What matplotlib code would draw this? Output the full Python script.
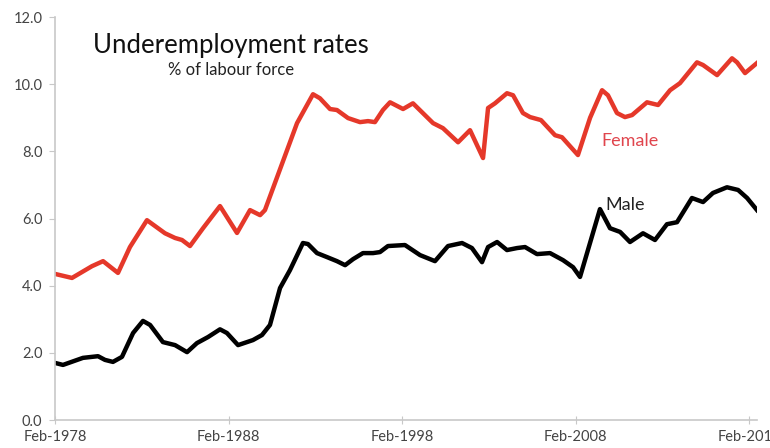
import matplotlib.pyplot as plt

# Underemployment rates, % of labour force
female_year = [1978.08, 1979.06, 1980.21, 1980.85, 1981.71, 1982.40, 1983.38, 1984.42,
               1985.00, 1985.40, 1985.86, 1986.61, 1987.59, 1988.57, 1989.32, 1989.90,
               1990.18, 1990.88, 1992.03, 1992.95, 1993.35, 1993.93, 1994.33, 1994.97,
               1995.66, 1996.12, 1996.52, 1996.98, 1997.39, 1998.14, 1998.71, 1999.87,
               2000.44, 2001.31, 2002.00, 2002.75, 2003.04, 2003.44, 2004.13, 2004.48,
               2005.05, 2005.46, 2006.09, 2006.90, 2007.30, 2008.22, 2008.92, 2009.61,
               2009.95, 2010.47, 2010.93, 2011.34, 2012.20, 2012.84, 2013.53, 2014.10,
               2015.08, 2015.43, 2016.24, 2017.10, 2017.39, 2017.85, 2018.54]
female = [4.35, 4.23, 4.58, 4.73, 4.38, 5.15, 5.95, 5.56,
          5.42, 5.36, 5.18, 5.71, 6.37, 5.57, 6.25, 6.10,
          6.25, 7.23, 8.84, 9.70, 9.58, 9.26, 9.23, 8.99,
          8.87, 8.90, 8.87, 9.23, 9.46, 9.26, 9.43, 8.84,
          8.69, 8.27, 8.63, 7.80, 9.29, 9.43, 9.73, 9.67,
          9.14, 9.02, 8.93, 8.48, 8.42, 7.89, 9.00, 9.82,
          9.67, 9.14, 9.02, 9.08, 9.46, 9.38, 9.82, 10.03,
          10.65, 10.57, 10.27, 10.77, 10.65, 10.33, 10.63]

male_year = [1978.08, 1978.54, 1979.69, 1980.56, 1980.96, 1981.42, 1981.94, 1982.58,
             1983.15, 1983.56, 1984.30, 1985.00, 1985.69, 1986.26, 1986.90, 1987.59,
             1987.99, 1988.63, 1989.49, 1990.01, 1990.47, 1991.05, 1991.62, 1992.37,
             1992.66, 1993.18, 1993.76, 1994.33, 1994.80, 1995.26, 1995.83, 1996.41,
             1996.81, 1997.27, 1998.25, 1999.12, 1999.98, 2000.73, 2001.54, 2002.11,
             2002.69, 2003.04, 2003.56, 2004.13, 2004.71, 2005.17, 2005.86, 2006.61,
             2007.36, 2007.94, 2008.34, 2009.49, 2010.07, 2010.65, 2011.22, 2011.97,
             2012.66, 2013.35, 2013.93, 2014.79, 2015.43, 2016.00, 2016.81, 2017.45,
             2017.97, 2018.54]
male = [1.70, 1.64, 1.85, 1.90, 1.79, 1.73, 1.88, 2.59,
        2.95, 2.83, 2.32, 2.23, 2.02, 2.29, 2.47, 2.70,
        2.59, 2.23, 2.38, 2.53, 2.83, 3.93, 4.46, 5.27,
        5.24, 4.97, 4.85, 4.73, 4.61, 4.79, 4.97, 4.97,
        5.00, 5.18, 5.21, 4.91, 4.73, 5.18, 5.27, 5.12,
        4.70, 5.15, 5.30, 5.06, 5.12, 5.15, 4.94, 4.97,
        4.76, 4.55, 4.26, 6.28, 5.71, 5.60, 5.30, 5.56,
        5.36, 5.83, 5.89, 6.61, 6.49, 6.76, 6.93, 6.85,
        6.61, 6.25]

x_ticks = [1978.08, 1988.08, 1998.08, 2008.08, 2018.08]
x_labels = ['Feb-1978', 'Feb-1988', 'Feb-1998', 'Feb-2008', 'Feb-2018']
y_ticks = [0, 2, 4, 6, 8, 10, 12]

plt.rcParams['font.family'] = ['Lato', 'DejaVu Sans']

fig = plt.figure(figsize=(7.7, 4.48), dpi=100)
ax = fig.add_axes([55 / 770, 28 / 448, 702 / 770, 403 / 448])

ax.plot(female_year, female, color='#e5382a', lw=3.2, solid_joinstyle='round')
ax.plot(male_year, male, color='#000000', lw=3.2, solid_joinstyle='round')

ax.set_xlim(1978.08, 2018.54)
ax.set_ylim(0, 12)
ax.set_xticks(x_ticks)
ax.set_xticklabels(x_labels)
ax.set_yticks(y_ticks)
ax.set_yticklabels([f'{v:.1f}' for v in y_ticks])

for side in ['top', 'right']:
    ax.spines[side].set_visible(False)
for side in ['left', 'bottom']:
    ax.spines[side].set_color('#c8c8c8')
    ax.spines[side].set_linewidth(1.2)
ax.tick_params(axis='x', direction='inout', length=6, color='#c8c8c8',
               labelsize=10.5, labelcolor='#444444', pad=4)
ax.tick_params(axis='y', direction='out', length=4, color='#c8c8c8',
               labelsize=10.5, labelcolor='#444444', pad=5)

# title block inside the axes
fig.text(231 / 770, 1 - 45 / 448, 'Underemployment rates', ha='center', va='center',
         fontsize=18.5, color='#111111')
fig.text(231 / 770, 1 - 70 / 448, '% of labour force', ha='center', va='center',
         fontsize=12, color='#222222')

# series labels
ax.text(2009.55, 8.3, 'Female', color='#e0454d', fontsize=13, va='center')
ax.text(2009.8, 6.4, 'Male', color='#222222', fontsize=13, va='center')

fig.savefig('out.png', dpi=100)
